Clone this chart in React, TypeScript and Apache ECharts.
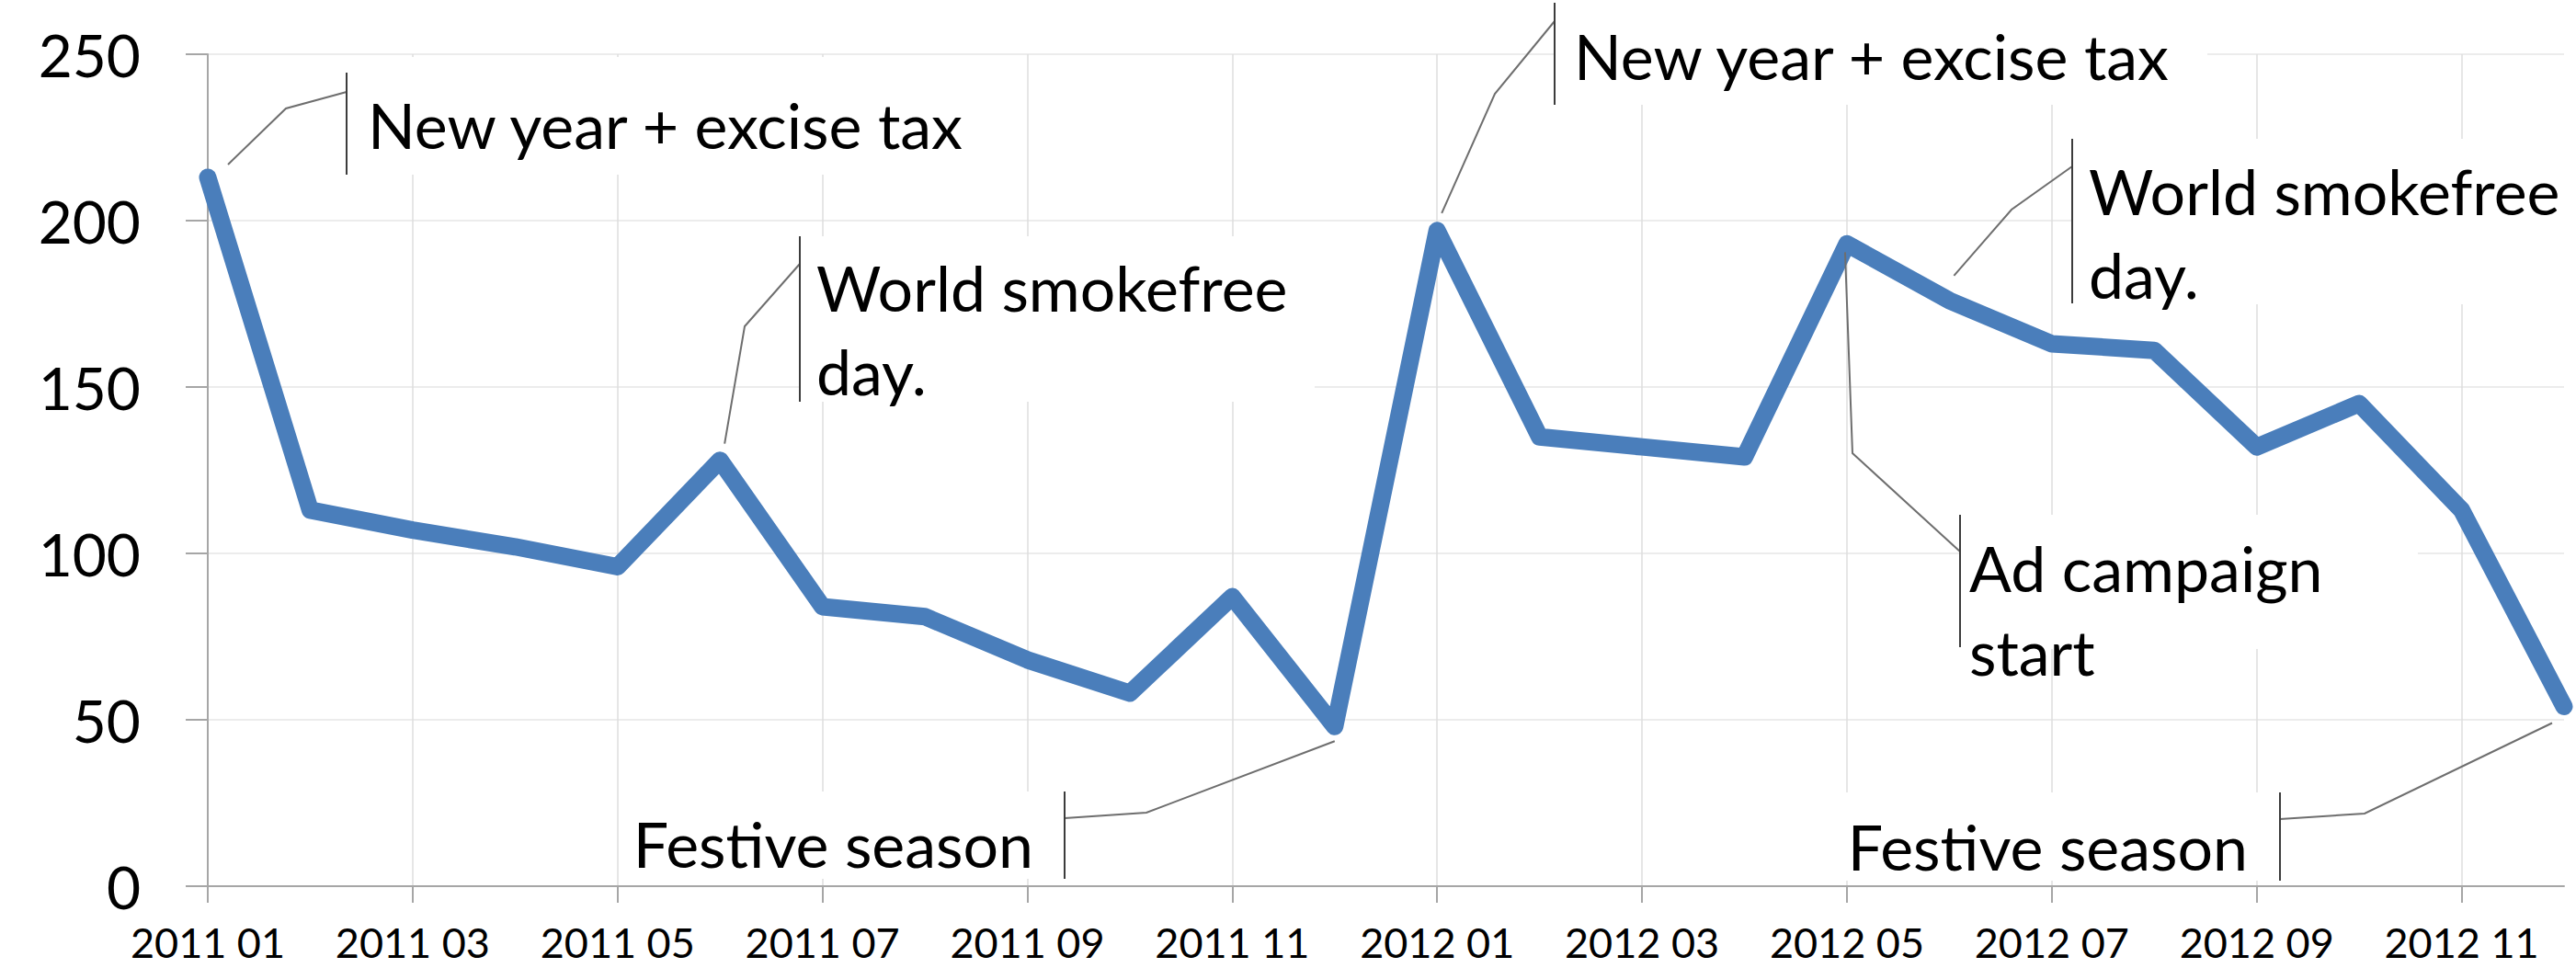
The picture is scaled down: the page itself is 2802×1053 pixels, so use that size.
import React, { useEffect, useRef } from "react";
import * as echarts from "echarts";

const months = [
  "2011 01", "2011 02", "2011 03", "2011 04", "2011 05", "2011 06",
  "2011 07", "2011 08", "2011 09", "2011 10", "2011 11", "2011 12",
  "2012 01", "2012 02", "2012 03", "2012 04", "2012 05", "2012 06",
  "2012 07", "2012 08", "2012 09", "2012 10", "2012 11", "2012 12",
];
const values = [
  213, 113, 107, 102, 96, 128, 84, 81, 68, 58, 87, 48,
  197, 135, 132, 129, 193, 176, 163, 161, 132, 145, 113, 54,
];
const yMin = 0;
const yMax = 250;
const yStep = 50;

// annotation content
const noteTexts = [
  "New year + excise tax",
  "World smokefree\nday.",
  "Festive season",
  "New year + excise tax",
  "World smokefree\nday.",
  "Ad campaign\nstart",
  "Festive season",
];
const noteIndex = [0, 5, 11, 12, 17, 16, 23];

// annotation layout (pixels)
type NoteLayout = {
  off: [number, number]; // leader start offset from data point
  mid: [number, number];
  join: [number, number];
  bar: [number, number, number]; // x, y1, y2
  box: [number, number, number, number]; // x, y, w, h
  tx: number;
  ty: number; // vertical middle of text block
  align: "left" | "right";
};
const noteLayout: NoteLayout[] = [
  { off: [22, -14], mid: [311, 118], join: [377, 100], bar: [377, 79, 190], box: [377, 62, 700, 128], tx: 400, ty: 135.5, align: "left" },
  { off: [5, -18], mid: [810, 355], join: [870, 287], bar: [870, 257, 437], box: [870, 257, 560, 180], tx: 888, ty: 358, align: "left" },
  { off: [0, 16], mid: [1247, 884], join: [1158, 890], bar: [1158, 861, 956], box: [675, 861, 483, 95], tx: 1124, ty: 917.5, align: "right" },
  { off: [5, -19], mid: [1626, 102], join: [1691, 23], bar: [1691, 3, 114], box: [1691, 0, 710, 114], tx: 1712, ty: 60, align: "left" },
  { off: [5, -27], mid: [2188, 228], join: [2254, 181], bar: [2254, 151, 330], box: [2254, 151, 548, 180], tx: 2272, ty: 253, align: "left" },
  { off: [-2, 9], mid: [2015, 493], join: [2132, 600], bar: [2132, 560, 704], box: [2132, 560, 498, 146], tx: 2142, ty: 662.5, align: "left" },
  { off: [-13, 18], mid: [2572, 885], join: [2480, 891], bar: [2480, 862, 958], box: [1995, 862, 485, 96], tx: 2445, ty: 920, align: "right" },
];

const FONT = "Lato, 'Noto Sans', sans-serif";

export default function App() {
  const ref = useRef<HTMLDivElement>(null);
  useEffect(() => {
    if (!ref.current) return;
    const chart = echarts.init(ref.current, undefined, { renderer: "svg" });
    chart.setOption({
      animation: false,
      backgroundColor: "#ffffff",
      grid: { left: 226, right: 13, top: 59, bottom: 89, containLabel: false },
      xAxis: {
        type: "category",
        data: months,
        boundaryGap: false,
        axisLine: { show: true, lineStyle: { color: "#a6a6a6", width: 2 } },
        axisTick: { show: true, interval: 1, length: 18, lineStyle: { color: "#a6a6a6", width: 2 } },
        axisLabel: {
          interval: 1,
          margin: 38,
          fontSize: 45,
          lineHeight: 45,
          fontFamily: FONT,
          color: "#000",
        },
        splitLine: { show: true, interval: 1, lineStyle: { color: "#dedede", width: 1.5 } },
      },
      yAxis: {
        type: "value",
        min: yMin,
        max: yMax,
        interval: yStep,
        axisLine: { show: true, lineStyle: { color: "#a6a6a6", width: 2 } },
        axisTick: { show: true, length: 24, lineStyle: { color: "#a6a6a6", width: 2 } },
        axisLabel: { margin: 73, fontSize: 64, fontFamily: FONT, color: "#000" },
        splitLine: { show: true, lineStyle: { color: "#ececec", width: 2 } },
      },
      series: [
        {
          type: "line",
          data: values,
          showSymbol: false,
          symbol: "none",
          z: 2,
          lineStyle: { color: "#4a7ebb", width: 19, join: "round", cap: "round" },
        },
      ],
    });

    const elements: any[] = [];
    noteTexts.forEach((text, i) => {
      const L = noteLayout[i];
      const idx = noteIndex[i];
      const p = chart.convertToPixel({ seriesIndex: 0 }, [idx, values[idx]]) as number[];
      const start = [p[0] + L.off[0], p[1] + L.off[1]];
      elements.push({
        type: "rect",
        z: 1,
        silent: true,
        shape: { x: L.box[0], y: L.box[1], width: L.box[2], height: L.box[3] },
        style: { fill: "#ffffff" },
      });
      elements.push({
        type: "polyline",
        z: 5,
        silent: true,
        shape: { points: [start, L.mid, L.join] },
        style: { stroke: "#6e6e6e", lineWidth: 2, fill: "none" },
      });
      elements.push({
        type: "line",
        z: 5,
        silent: true,
        shape: { x1: L.bar[0], y1: L.bar[1], x2: L.bar[0], y2: L.bar[2] },
        style: { stroke: "#3c3c3c", lineWidth: 2 },
      });
      elements.push({
        type: "text",
        z: 5,
        silent: true,
        style: {
          text,
          x: L.tx,
          y: L.ty,
          fill: "#000000",
          fontSize: 68,
          fontFamily: FONT,
          lineHeight: 91,
          align: L.align,
          verticalAlign: "middle",
        },
      });
    });
    chart.setOption({ graphic: { elements } });

    return () => chart.dispose();
  }, []);
  return (
    <div
      ref={ref}
      style={{ position: "fixed", left: 0, top: 0, width: 2802, height: 1053, background: "#fff" }}
    />
  );
}
